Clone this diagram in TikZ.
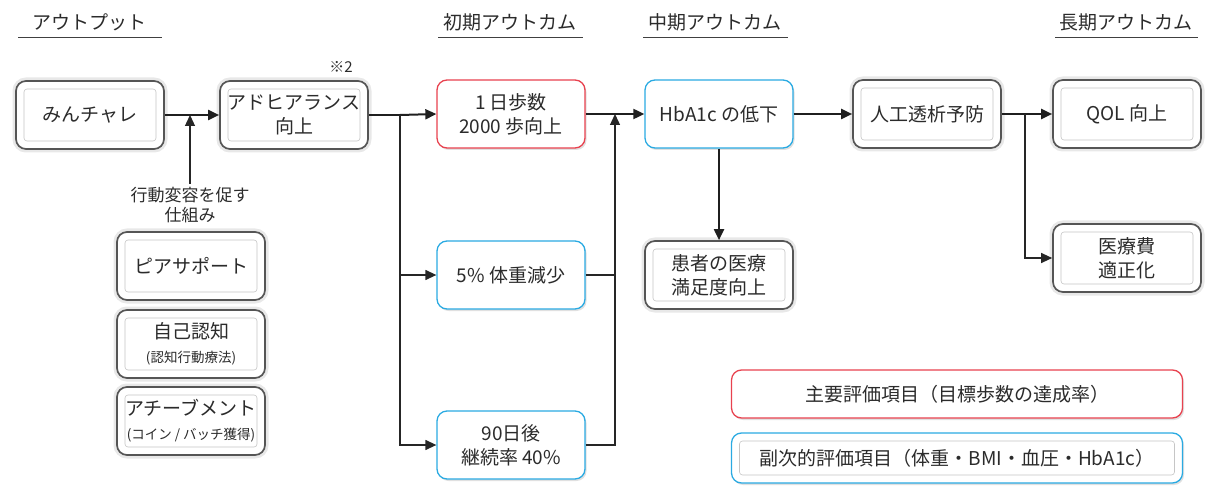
\documentclass[tikz,border=0pt]{standalone}
\usepackage{fontspec}
\setmainfont{Noto Sans CJK JP}
\usetikzlibrary{arrows.meta,shadows,calc}
\definecolor{tred}{HTML}{E8424F}
\definecolor{tblue}{HTML}{2AAAE2}
\definecolor{tgray}{HTML}{555555}
\definecolor{ttext}{HTML}{2B2B2B}
\newcommand{\smallfnt}{\fontsize{13.5}{16}\selectfont}
\begin{document}
\begin{tikzpicture}[x=1pt,y=-1pt,
  every node/.style={text=ttext, font=\fontsize{19}{24}\selectfont},
  bx/.style={rounded corners=10pt, minimum width=148pt, minimum height=68pt, inner sep=0pt, align=center, fill=white,
    drop shadow={fill=black!35, opacity=0.35, shadow xshift=1.5pt, shadow yshift=-2pt}},
  innerline/.style={path picture={\draw[gray!45,line width=0.6pt,rounded corners=3pt]
     ([shift={(8pt,-8pt)}]path picture bounding box.north west) rectangle
     ([shift={(-8pt,8pt)}]path picture bounding box.south east);}},
  gbx/.style={bx, draw=tgray, line width=1.7pt, innerline,
    preaction={draw=gray!18, line width=7pt}},
  rbx/.style={bx, draw=tred, line width=1.3pt},
  bbx/.style={bx, draw=tblue, line width=1.3pt},
  conn/.style={line width=2pt, draw=black!88},
  vconn/.style={line width=1.3pt, draw=black!85},
  arrtip/.style={-{Triangle[length=11pt,width=10pt]}},
  hrule/.style={line width=1pt, draw=black!75}
]
\useasboundingbox (0,0) rectangle (1206,486);

% headers
\node (h1) at (89,22) {アウトプット};
\node (h2) at (510,22) {初期アウトカム};
\node (h3) at (715,22) {中期アウトカム};
\node (h4) at (1126,22) {長期アウトカム};
\draw[hrule] (18,38) -- (162,38);
\draw[hrule] (438,38) -- (583,38);
\draw[hrule] (643,38) -- (788,38);
\draw[hrule] (1055,38) -- (1198,38);

% boxes
\node[gbx] (minchare) at (90,115) {みんチャレ};
\node[gbx] (adh) at (294,115) {アドヒアランス\\向上};
\node[font=\fontsize{15}{17}\selectfont] (note) at (341,67) {※2};
\node[rbx] (steps) at (511,114) {1 日歩数\\2000 歩向上};
\node[bbx] (hba) at (719,114) {HbA1c の低下};
\node[gbx] (dial) at (927,114) {人工透析予防};
\node[gbx] (qol) at (1127,114) {QOL 向上};
\node[gbx] (cost) at (1127,258) {医療費\\適正化};
\node[gbx] (sat) at (719,275) {患者の医療\\満足度向上};
\node[bbx] (wt) at (511,275) {5\% 体重減少};
\node[bbx] (cont) at (511,445) {90日後\\継続率 40\%};

\node[align=center, font=\fontsize{17}{20}\selectfont] (mech) at (190,205) {行動変容を促す\\仕組み};
\node[gbx] (peer) at (191,266) {ピアサポート};
\node[gbx] (self) at (191,344) {自己認知\\{\smallfnt (認知行動療法)}};
\node[gbx] (ach) at (191,421) {アチーブメント\\{\smallfnt (コイン / バッチ獲得)}};

% legend
\node[rbx, minimum width=451pt, minimum height=48pt] (lgred) at (957,394) {主要評価項目（目標歩数の達成率）};
\node[bbx, innerline, minimum width=451pt, minimum height=50pt] (lgblue) at (957,458) {副次的評価項目（体重・BMI・血圧・HbA1c）};

% connectors
\coordinate (b1) at (400,115);
\coordinate (b2) at (615,114);
\coordinate (b3) at (1025,114);

\draw[conn, arrtip] (minchare.east) -- (adh.west);
\draw[vconn, arrtip] (mech.north) -- (mech.north |- minchare.east);

\draw[conn] (adh.east) -- (b1);
\draw[conn, arrtip] (b1) -- (steps.west);
\draw[vconn, arrtip] (b1) |- (wt.west);
\draw[vconn, arrtip] (b1) |- (cont.west);

\draw[conn, arrtip] (steps.east) -- (hba.west);
\draw[vconn] (wt.east) -- (wt.east -| b2);
\draw[vconn, arrtip] (cont.east) -| (b2);

\draw[conn, arrtip] (hba.south) -- (sat.north);
\draw[conn, arrtip] (hba.east) -- (dial.west);

\draw[conn] (dial.east) -- (b3);
\draw[conn, arrtip] (b3) -- (qol.west);
\draw[vconn, arrtip] (b3) |- (cost.west);
\end{tikzpicture}
\end{document}
